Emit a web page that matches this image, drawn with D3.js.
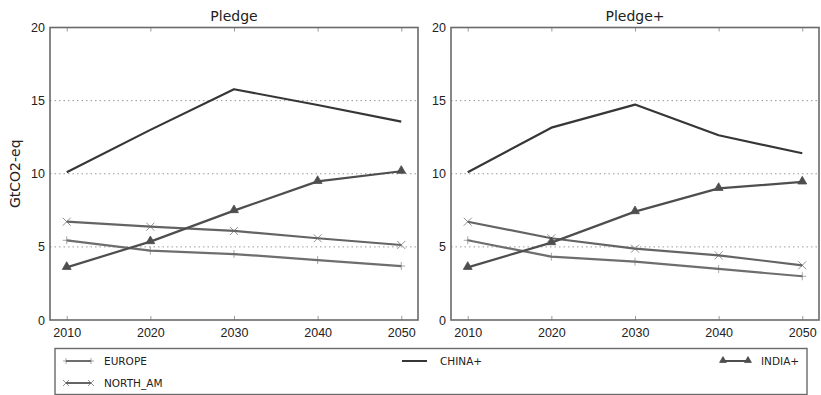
<!DOCTYPE html>
<html>
<head>
<meta charset="utf-8">
<script src="https://cdn.jsdelivr.net/npm/d3@7"></script>
<style>
  html, body { margin: 0; padding: 0; background: #fff; }
  svg { display: block; font-family: "DejaVu Sans", sans-serif; }
</style>
</head>
<body>
<svg id="chart" width="821" height="395"></svg>
<script>
// Emissions by region, GtCO2-eq, for two pledge scenarios
const years = [2010, 2020, 2030, 2040, 2050];
const regions = ["EUROPE", "NORTH_AM", "CHINA+", "INDIA+"];
const panelTitles = ["Pledge", "Pledge+"];
const yTicks = [0, 5, 10, 15, 20];

const pledgeEurope  = [5.45, 4.74, 4.51, 4.10, 3.69];
const pledgeNorthAm = [6.72, 6.38, 6.09, 5.59, 5.13];
const pledgeChina   = [10.10, 13.00, 15.78, 14.70, 13.56];
const pledgeIndia   = [3.60, 5.36, 7.48, 9.48, 10.17];

const plusEurope  = [5.45, 4.33, 3.99, 3.49, 2.99];
const plusNorthAm = [6.72, 5.59, 4.88, 4.42, 3.74];
const plusChina   = [10.10, 13.15, 14.73, 12.63, 11.40];
const plusIndia   = [3.60, 5.29, 7.41, 9.00, 9.44];

const panelData = [
  [pledgeEurope, pledgeNorthAm, pledgeChina, pledgeIndia],
  [plusEurope, plusNorthAm, plusChina, plusIndia]
];

const style = {
  "EUROPE":   { color: "#6e6e6e", marker: "plus" },
  "NORTH_AM": { color: "#646464", marker: "cross" },
  "CHINA+":   { color: "#363636", marker: "none" },
  "INDIA+":   { color: "#4e4e4e", marker: "triangle" }
};

const svg = d3.select("#chart");
const panels = [
  { left: 50, right: 418 },
  { left: 451, right: 819 }
];
const plotTop = 27.5, plotBottom = 320;
const frameColor = "#6a6a6a";

function drawMarker(g, kind, x, y, color, r = 4, triArea = 34) {
  if (kind === "plus") {
    g.append("path").attr("d", `M${x - r},${y}H${x + r}M${x},${y - r}V${y + r}`)
      .attr("stroke", color).attr("stroke-width", 1).attr("fill", "none").attr("opacity", 0.6);
  } else if (kind === "cross") {
    g.append("path").attr("d", `M${x - r},${y - r}L${x + r},${y + r}M${x - r},${y + r}L${x + r},${y - r}`)
      .attr("stroke", color).attr("stroke-width", 1).attr("fill", "none").attr("opacity", 0.7);
  } else if (kind === "triangle") {
    g.append("path").attr("d", d3.symbol(d3.symbolTriangle, triArea)())
      .attr("transform", `translate(${x},${y - 0.5})`)
      .attr("fill", color).attr("stroke", color).attr("stroke-width", 0.8);
  }
}

panels.forEach((p, pi) => {
  const x = d3.scaleLinear().domain([2008, 2052]).range([p.left, p.right]);
  const y = d3.scaleLinear().domain([0, 20]).range([plotBottom, plotTop]);
  const g = svg.append("g");

  // horizontal dotted grid
  g.selectAll(".grid").data(yTicks.filter(t => t > 0 && t < 20)).join("line")
    .attr("x1", p.left).attr("x2", p.right)
    .attr("y1", d => y(d)).attr("y2", d => y(d))
    .attr("stroke", "#9a9a9a").attr("stroke-width", 1)
    .attr("stroke-dasharray", "1.5,3");

  // bottom axis with inward ticks, labels below
  const xAxis = d3.axisBottom(x).tickValues(years).tickFormat(d3.format("d"))
    .tickSizeInner(-4).tickSizeOuter(0).tickPadding(8);
  const gx = g.append("g").attr("transform", `translate(0,${plotBottom})`).call(xAxis);
  gx.select(".domain").remove();
  gx.selectAll(".tick line").attr("stroke", "#999");
  gx.selectAll(".tick text").attr("font-size", 12.5).attr("fill", "#222");

  // top axis ticks
  const gxt = g.append("g").attr("transform", `translate(0,${plotTop})`)
    .call(d3.axisTop(x).tickValues(years).tickSizeInner(-4).tickSizeOuter(0).tickFormat(""));
  gxt.select(".domain").remove();
  gxt.selectAll(".tick line").attr("stroke", "#999");

  // left axis
  const gy = g.append("g").attr("transform", `translate(${p.left},0)`)
    .call(d3.axisLeft(y).tickValues(yTicks).tickSizeInner(0).tickSizeOuter(0).tickPadding(5));
  gy.select(".domain").remove();
  gy.selectAll(".tick text").attr("font-size", 12.5).attr("fill", "#222");

  // series lines
  const line = d3.line().x((d, i) => x(years[i])).y(d => y(d));
  regions.forEach((r, ri) => {
    const vals = panelData[pi][ri];
    const s = style[r];
    g.append("path").datum(vals).attr("d", line)
      .attr("fill", "none").attr("stroke", s.color)
      .attr("stroke-width", 2.2).attr("stroke-linejoin", "round");
    vals.forEach((v, i) => drawMarker(g, s.marker, x(years[i]), y(v), s.color));
  });

  // frame
  g.append("rect").attr("x", p.left).attr("y", plotTop)
    .attr("width", p.right - p.left).attr("height", plotBottom - plotTop)
    .attr("fill", "none").attr("stroke", frameColor).attr("stroke-width", 1.6);

  // title
  g.append("text").attr("x", (p.left + p.right) / 2).attr("y", 21)
    .attr("text-anchor", "middle").attr("font-size", 14).attr("fill", "#222")
    .text(panelTitles[pi]);
});

// y-axis label
svg.append("text")
  .attr("transform", `translate(20,${(plotTop + plotBottom) / 2}) rotate(-90)`)
  .attr("text-anchor", "middle").attr("font-size", 14).attr("fill", "#222")
  .text("GtCO2-eq");

// legend
const lg = svg.append("g");
lg.append("rect").attr("x", 55).attr("y", 348.5).attr("width", 752).attr("height", 46)
  .attr("fill", "#fff").attr("stroke", frameColor).attr("stroke-width", 1.4);

const legendPos = [
  { name: "EUROPE", x: 66, y: 361 },
  { name: "NORTH_AM", x: 66, y: 383 },
  { name: "CHINA+", x: 402, y: 361 },
  { name: "INDIA+", x: 723, y: 361 }
];
legendPos.forEach(e => {
  const s = style[e.name];
  lg.append("line").attr("x1", e.x).attr("x2", e.x + 25)
    .attr("y1", e.y).attr("y2", e.y)
    .attr("stroke", s.color).attr("stroke-width", 2);
  if (s.marker !== "none") {
    drawMarker(lg, s.marker, e.x, e.y, s.color, 3, 20);
    drawMarker(lg, s.marker, e.x + 25, e.y, s.color, 3, 20);
  }
  lg.append("text").attr("x", e.x + 38).attr("y", e.y + 4)
    .attr("font-size", 10.5).attr("fill", "#222")
    .text(e.name);
});
</script>
</body>
</html>
